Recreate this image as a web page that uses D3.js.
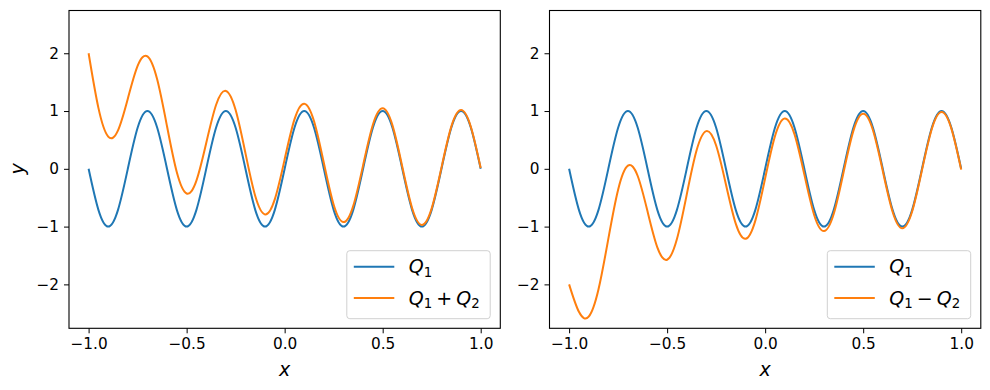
<!DOCTYPE html>
<html><head><meta charset="utf-8">
<script src="https://cdn.jsdelivr.net/npm/d3@7"></script>
<style>body{margin:0;background:#fff}</style>
</head><body>
<svg id="chart" width="990" height="390"></svg>
<script>
const xValues = [-1.00,-0.95,-0.90,-0.85,-0.80,-0.75,-0.70,-0.65,-0.60,-0.55,-0.50,-0.45,-0.40,-0.35,-0.30,-0.25,-0.20,-0.15,-0.10,-0.05,0.00,0.05,0.10,0.15,0.20,0.25,0.30,0.35,0.40,0.45,0.50,0.55,0.60,0.65,0.70,0.75,0.80,0.85,0.90,0.95,1.00];
const q1Values = [0,-0.71,-1,-0.71,0,0.71,1,0.71, 0,-0.71,-1,-0.71,0,0.71,1,0.71, 0,-0.71,-1,-0.71,0,0.71,1,0.71, 0,-0.71,-1,-0.71,0,0.71,1,0.71, 0,-0.71,-1,-0.71,0,0.71,1,0.71, 0];
const q2Values = [2.00,1.765,1.558,1.375,1.213,1.071,0.945,0.834,0.736,0.649,0.573,0.506,0.446,0.394,0.348,0.307,0.271,0.239,0.211,0.186,0.164,0.145,0.128,0.113,0.100,0.088,0.078,0.069,0.060,0.053,0.047,0.042,0.037,0.032,0.029,0.025,0.022,0.020,0.017,0.015,0.014];
const xTicks = [-1.0,-0.5,0.0,0.5,1.0];
const yTicks = [-2,-1,0,1,2];

const svg = d3.select("#chart");
const blue = "#1f77b4", orange = "#ff7f0e";
const fmtX = d => d3.format(".1f")(d).replace("-", "\u2212");
const fmtY = d => String(d).replace("-", "\u2212");

const panels = [
  {left: 69, op: 1, sign: "+", ylabel: true},
  {left: 549.5, op: -1, sign: "\u2212", ylabel: false}
];
const plotTop = 10.5, plotBottom = 328.3, plotWidth = 431.3;

panels.forEach(p => {
  const x = d3.scaleLinear().domain([-1.1, 1.1]).range([p.left, p.left + plotWidth]);
  const y = d3.scaleLinear().domain([-2.76, 2.74]).range([plotBottom, plotTop]);
  const g = svg.append("g");

  const line = d3.line().x((d, i) => x(xValues[i])).y(d => y(d)).curve(d3.curveNatural);
  const comb = q1Values.map((v, i) => v + p.op * q2Values[i]);

  g.append("path").attr("d", line(q1Values)).attr("fill", "none").attr("stroke", blue).attr("stroke-width", 2);
  g.append("path").attr("d", line(comb)).attr("fill", "none").attr("stroke", orange).attr("stroke-width", 2);

  const xa = g.append("g").attr("transform", `translate(0,${plotBottom})`)
    .call(d3.axisBottom(x).tickValues(xTicks).tickFormat(fmtX).tickSize(5).tickPadding(5));
  const ya = g.append("g").attr("transform", `translate(${p.left},0)`)
    .call(d3.axisLeft(y).tickValues(yTicks).tickFormat(fmtY).tickSize(5).tickPadding(5));
  [xa, ya].forEach(a => {
    a.select(".domain").remove();
    a.selectAll("text").attr("font-family", "DejaVu Sans").attr("font-size", 15.3).attr("fill", "#000");
    a.selectAll("line").attr("stroke", "#000").attr("stroke-width", 1);
  });

  g.append("rect").attr("x", p.left).attr("y", plotTop).attr("width", plotWidth).attr("height", plotBottom - plotTop)
    .attr("fill", "none").attr("stroke", "#000").attr("stroke-width", 1.1);

  g.append("text").attr("x", x(0)).attr("y", 376).attr("text-anchor", "middle")
    .attr("font-family", "DejaVu Sans").attr("font-style", "italic").attr("font-size", 19).text("x");
  if (p.ylabel) {
    g.append("text").attr("transform", `translate(24,${y(0)}) rotate(-90)`).attr("text-anchor", "middle")
      .attr("font-family", "DejaVu Sans").attr("font-style", "italic").attr("font-size", 19).text("y");
  }

  const lx = p.left + plotWidth - 153.5, ly = 250.7;
  const lg = g.append("g");
  lg.append("rect").attr("x", lx).attr("y", ly).attr("width", 143.4).attr("height", 68)
    .attr("rx", 3).attr("fill", "#fff").attr("fill-opacity", 0.8).attr("stroke", "#d0d0d0").attr("stroke-width", 1);
  const rows = [{c: blue, parts: [["Q", "it"], ["1", "sub"]]},
                {c: orange, parts: [["Q", "it"], ["1", "sub"], [p.sign, "op"], ["Q", "it"], ["2", "sub"]]}];
  rows.forEach((r, i) => {
    const cy = ly + 16 + i * 31.3;
    lg.append("line").attr("x1", lx + 7).attr("x2", lx + 47.5).attr("y1", cy).attr("y2", cy)
      .attr("stroke", r.c).attr("stroke-width", 2);
    const t = lg.append("text").attr("x", lx + 62).attr("y", cy + 6.5)
      .attr("font-family", "DejaVu Sans").attr("font-size", 19).attr("fill", "#000");
    let shifted = false;
    r.parts.forEach(pt => {
      const ts = t.append("tspan").text(pt[0]);
      if (pt[1] === "it") ts.attr("font-style", "italic");
      if (pt[1] === "sub") { ts.attr("font-size", 13.3).attr("dy", 3.5); shifted = true; }
      else {
        if (shifted) { ts.attr("dy", -3.5); shifted = false; }
        if (pt[1] === "op") ts.attr("dx", 4);
        if (pt[1] === "it" && t.selectAll("tspan").size() > 1) ts.attr("dx", 4);
      }
    });
  });
});
</script>
</body></html>
